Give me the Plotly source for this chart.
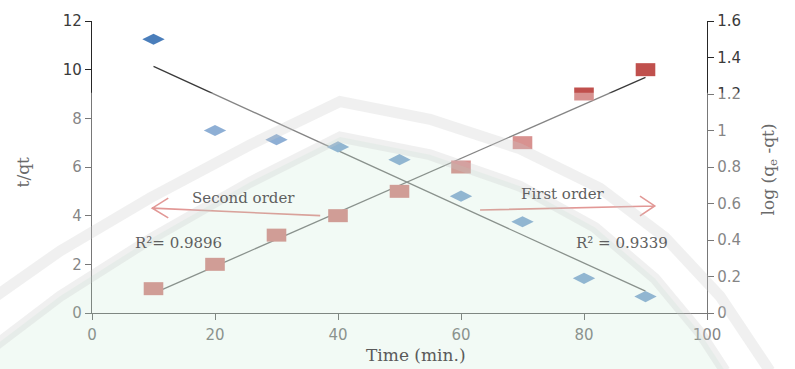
import numpy as np
import plotly.graph_objects as go

# Kinetic data: time (min) vs t/qt (pseudo-second order) and log(qe - qt) (pseudo-first order)
time_min = [10, 20, 30, 40, 50, 60, 70, 80, 90]
t_over_qt = [1.0, 2.0, 3.2, 4.0, 5.0, 6.0, 7.0, 9.0, 10.0]
log_qe_qt = [1.50, 1.00, 0.95, 0.91, 0.84, 0.64, 0.50, 0.19, 0.09]

x_ticks = [0, 20, 40, 60, 80, 100]
y1_ticks = [0, 2, 4, 6, 8, 10, 12]
y2_ticks = [0, 0.2, 0.4, 0.6, 0.8, 1, 1.2, 1.4, 1.6]
y2_labels = ["0", "0.2", "0.4", "0.6", "0.8", "1", "1.2", "1.4", "1.6"]

r2_second = "R²= 0.9896"
r2_first = "R² = 0.9339"

W, H = 795, 369
ML, MR, MT, MB = 92, 88, 16, 56
PW, PH = W - ML - MR, H - MT - MB

BLUE = "#4a7ebb"
RED = "#c0504d"
LINE = "#3a3a3a"
AXIS = "#262626"
TXT = "#3a3a3a"


def px(x, y):
    """pixel position -> paper coordinates"""
    return (x - ML) / PW, (H - MB - y) / PH


def path_from(points, close=False):
    pts = [px(a, b) for a, b in points]
    d = "M " + " L ".join(f"{a:.4f},{b:.4f}" for a, b in pts)
    return d + (" Z" if close else "")


fig = go.Figure()

# linear fits
x_fit = np.array([min(time_min), max(time_min)])
k2, b2 = np.polyfit(time_min, t_over_qt, 1)
k1, b1 = np.polyfit(time_min, log_qe_qt, 1)

fig.add_trace(go.Scatter(x=x_fit, y=k2 * x_fit + b2, mode="lines",
                         line=dict(color=LINE, width=1.3), yaxis="y", showlegend=False))
fig.add_trace(go.Scatter(x=x_fit, y=k1 * x_fit + b1, mode="lines",
                         line=dict(color=LINE, width=1.3), yaxis="y2", showlegend=False))

# first order points (right axis)
fig.add_trace(go.Scatter(x=time_min, y=log_qe_qt, mode="markers", yaxis="y2",
                         marker=dict(symbol="diamond-wide", size=16, color=BLUE,
                                     line=dict(width=0)),
                         showlegend=False))
# second order points (left axis) drawn as wide rectangles
fig.add_trace(go.Scatter(x=time_min, y=t_over_qt, mode="markers", yaxis="y",
                         marker=dict(symbol="line-ew", size=14,
                                     line=dict(width=13, color=RED)),
                         showlegend=False))

shapes = []
ARROW = "#d05a56"
# arrows pointing to each axis (open chevron heads)
for tail, head, arm1, arm2 in [
    ((37.1, 4.00), (9.8, 4.31), (12.4, 4.72), (12.4, 3.91)),
    ((63.1, 4.23), (91.5, 4.40), (89.1, 4.80), (89.1, 3.99)),
]:
    d = (f"M {tail[0]},{tail[1]} L {head[0]},{head[1]} "
         f"M {arm1[0]},{arm1[1]} L {head[0]},{head[1]} L {arm2[0]},{arm2[1]}")
    shapes.append(dict(type="path", xref="x", yref="y", path=d, layer="above",
                       line=dict(color=ARROW, width=1.6)))

# faint background emblem: veil, tinted field and two arched bands
x0, y0 = px(-5, 89)
x1, y1 = px(W + 5, H + 5)
shapes.append(dict(type="rect", xref="paper", yref="paper", x0=x0, y0=y0, x1=x1, y1=y1,
                   layer="above", line=dict(width=0), fillcolor="rgba(255,255,255,0.38)"))

outer = [(-10, 300), (60, 250), (150, 196), (250, 142), (340, 98), (430, 116),
         (520, 146), (600, 186), (665, 236), (720, 296), (770, 372)]
inner = [(-10, 350), (60, 296), (150, 238), (250, 180), (340, 134), (430, 152),
         (520, 184), (595, 226), (655, 278), (700, 333), (725, 372)]
field = inner + [(725, 372), (-10, 372)]
shapes.append(dict(type="path", xref="paper", yref="paper", path=path_from(field, True),
                   layer="above", line=dict(width=0), fillcolor="rgba(170,220,190,0.15)"))
for band in (outer, inner):
    shapes.append(dict(type="path", xref="paper", yref="paper", path=path_from(band),
                       layer="above", line=dict(color="rgba(200,200,200,0.28)", width=11)))

SERIF = "DejaVu Serif, Liberation Serif, serif"
ann = [
    dict(x=24.7, y=4.72, text="Second order"),
    dict(x=76.6, y=4.88, text="First order"),
    dict(x=14.0, y=2.86, text=r2_second),
    dict(x=86.2, y=2.86, text=r2_first),
]
annotations = [dict(a, xref="x", yref="y", showarrow=False, xanchor="center", yanchor="middle",
                    font=dict(family=SERIF, size=15, color="#5f5f5f"))
               for a in ann]

# axis titles
title_font = dict(family=SERIF, size=17, color="#6a6a6a")
tx, ty = px(23, 170)
annotations.append(dict(x=tx, y=ty, xref="paper", yref="paper", text="t/qt", textangle=-90,
                        xanchor="center", yanchor="middle", showarrow=False, font=title_font))
tx, ty = px(769, 167)
annotations.append(dict(x=tx, y=ty, xref="paper", yref="paper",
                        text="log (q<sub>e</sub> -qt)", textangle=-90,
                        xanchor="center", yanchor="middle", showarrow=False, font=title_font))
tx, ty = px(416, 356)
annotations.append(dict(x=tx, y=ty, xref="paper", yref="paper", text="Time (min.)",
                        xanchor="center", yanchor="middle", showarrow=False,
                        font=dict(family=SERIF, size=17, color="#5a5a5a")))

tick_font = dict(family="DejaVu Sans, sans-serif", size=15, color=TXT)
axis_common = dict(showgrid=False, zeroline=False, showline=True, linecolor=AXIS, linewidth=1.3,
                   ticks="outside", ticklen=6, tickcolor=AXIS, tickwidth=1.3, tickfont=tick_font)

fig.update_layout(
    width=W, height=H,
    margin=dict(l=ML, r=MR, t=MT, b=MB, pad=0),
    paper_bgcolor="white", plot_bgcolor="white",
    xaxis=dict(axis_common, range=[0, 100], tickvals=x_ticks, ticklabelstandoff=2),
    yaxis=dict(axis_common, range=[0, 12], tickvals=y1_ticks),
    yaxis2=dict(axis_common, range=[0, 1.6], tickvals=y2_ticks, ticktext=y2_labels,
                overlaying="y", side="right"),
    shapes=shapes,
    annotations=annotations,
    showlegend=False,
)

fig.write_html("out.html")
